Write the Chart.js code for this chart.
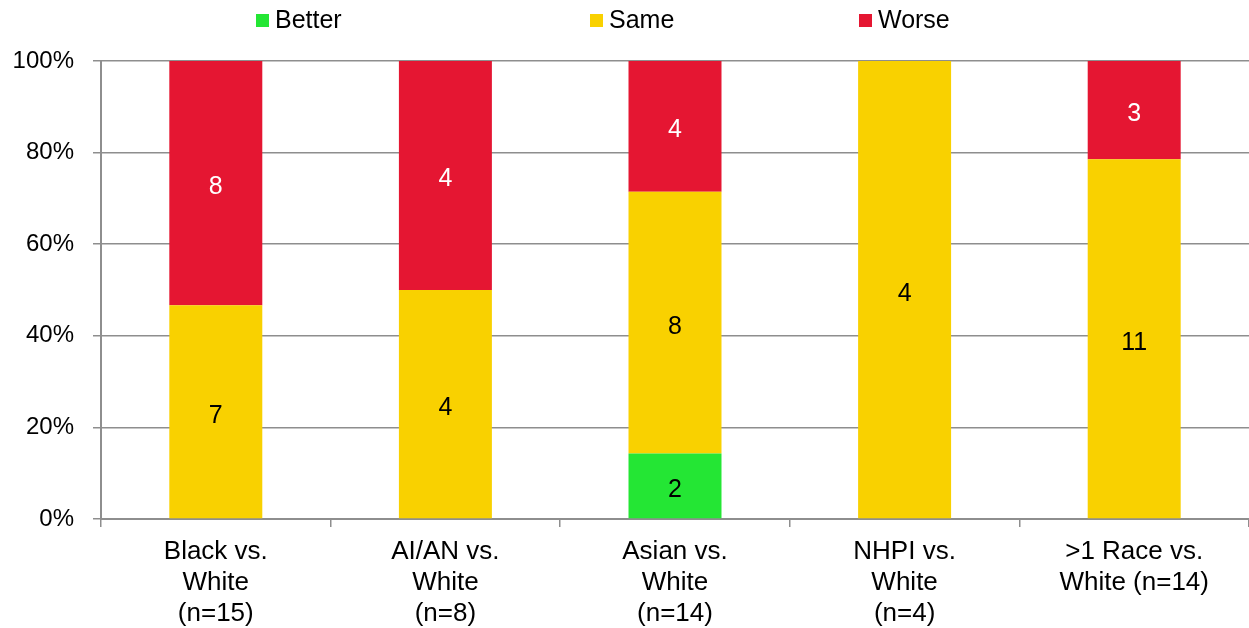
<!DOCTYPE html>
<html>
<head>
<meta charset="utf-8">
<script src="https://cdn.jsdelivr.net/npm/chart.js@4"></script>
<style>
  html, body { margin: 0; padding: 0; background: #fff; }
  #wrap { width: 1249px; height: 628px; }
</style>
</head>
<body>
<div id="wrap"><canvas id="c"></canvas></div>
<script>
// categories + counts per outcome
const categories = [
  ["Black vs.", "White", "(n=15)"],
  ["AI/AN vs.", "White", "(n=8)"],
  ["Asian vs.", "White", "(n=14)"],
  ["NHPI vs.", "White", "(n=4)"],
  [">1 Race vs.", "White (n=14)"]
];
const better = [0, 0, 2, 0, 0];
const same   = [7, 4, 8, 4, 11];
const worse  = [8, 4, 4, 0, 3];
const yTicks = [0, 20, 40, 60, 80, 100];

const totals = same.map((v, i) => better[i] + v + worse[i]);
const pct = arr => arr.map((v, i) => v / totals[i] * 100);

const FONT = "'Liberation Sans', Arial, sans-serif";
const AXIS = "#8e8e8e";

const series = [
  { label: "Better", counts: better, color: "#24e634", text: "#000" },
  { label: "Same",   counts: same,   color: "#f9d100", text: "#000" },
  { label: "Worse",  counts: worse,  color: "#e51632", text: "#fff" },
];

// count labels centred in each segment
const segLabels = {
  id: "segLabels",
  afterDatasetsDraw(chart) {
    const { ctx } = chart;
    ctx.save();
    ctx.font = "25px " + FONT;
    ctx.textAlign = "center";
    ctx.textBaseline = "middle";
    chart.data.datasets.forEach((ds, di) => {
      chart.getDatasetMeta(di).data.forEach((bar, i) => {
        const n = series[di].counts[i];
        if (!n) return;
        const p = bar.getCenterPoint();
        ctx.fillStyle = series[di].text;
        ctx.fillText(String(n), p.x, p.y + 4);
      });
    });
    ctx.restore();
  }
};

// Excel-style spread-out legend across the top
const topLegend = {
  id: "topLegend",
  afterDraw(chart) {
    const { ctx } = chart;
    const xs = [256, 590, 859];
    ctx.save();
    ctx.font = "25px " + FONT;
    ctx.textBaseline = "middle";
    series.forEach((s, i) => {
      ctx.fillStyle = s.color;
      ctx.fillRect(xs[i], 14, 13, 13);
      ctx.fillStyle = "#000";
      ctx.fillText(s.label, xs[i] + 19, 21);
    });
    ctx.restore();
  }
};

new Chart(document.getElementById("c"), {
  type: "bar",
  data: {
    labels: categories,
    datasets: series.map(s => ({
      label: s.label,
      data: pct(s.counts),
      backgroundColor: s.color,
      borderWidth: 0,
      categoryPercentage: 1,
      barPercentage: 0.405,
    }))
  },
  options: {
    responsive: true,
    maintainAspectRatio: false,
    animation: false,
    layout: { padding: { top: 61, left: 0, right: 0, bottom: 0 } },
    plugins: {
      legend: { display: false },
      tooltip: { enabled: false },
    },
    scales: {
      x: {
        stacked: true,
        afterFit: axis => { axis.height = 109; },
        grid: {
          offset: true,
          drawOnChartArea: false,
          tickLength: 8,
          tickColor: AXIS,
          lineWidth: 1.5,
        },
        border: { color: AXIS, width: 2 },
        ticks: {
          color: "#000",
          padding: 9,
          maxRotation: 0,
          autoSkip: false,
          font: { family: FONT, size: 26, lineHeight: "31px" },
        },
      },
      y: {
        stacked: true,
        min: 0,
        max: 100,
        afterBuildTicks: axis => { axis.ticks = yTicks.map(v => ({ value: v })); },
        afterFit: axis => { axis.width = 101; },
        grid: {
          color: AXIS,
          tickColor: AXIS,
          tickLength: 8,
          lineWidth: 1.5,
        },
        border: { color: AXIS, width: 2 },
        ticks: {
          color: "#000",
          padding: 19,
          callback: v => v + "%",
          font: { family: FONT, size: 24 },
        },
      }
    }
  },
  plugins: [segLabels, topLegend],
});
</script>
</body>
</html>
